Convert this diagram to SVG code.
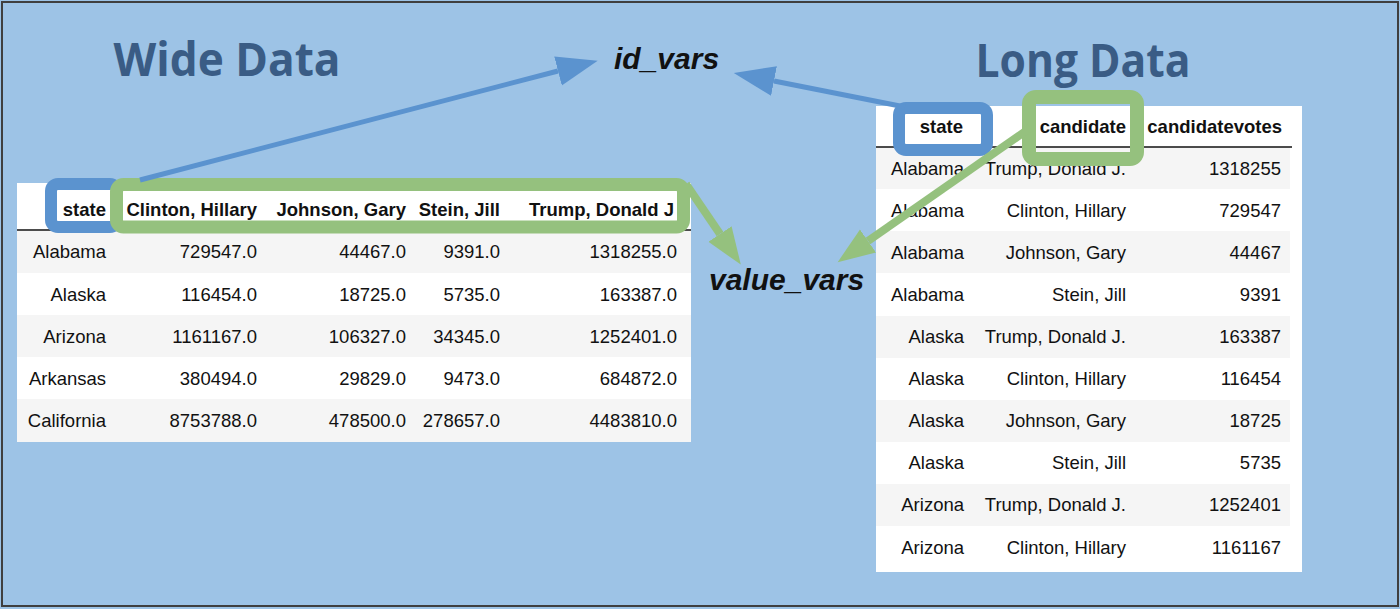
<svg xmlns="http://www.w3.org/2000/svg" width="1400" height="609" viewBox="0 0 1400 609">
<style>
.title{font-family:"Open Sans","Liberation Sans",sans-serif;font-weight:bold;font-size:46px;fill:#3A5C85;text-anchor:middle}
.lbl{font-family:"Liberation Sans",Arial,sans-serif;font-weight:bold;font-style:italic;font-size:30px;fill:#111}
.th{font-family:"Liberation Sans",Arial,sans-serif;font-weight:bold;font-size:18.5px;fill:#111;text-anchor:end}
.td{font-family:"Liberation Sans",Arial,sans-serif;font-size:18.5px;fill:#111;text-anchor:end}
.tbl{fill:#FFFFFF}
.stripe{fill:#F5F5F5}
.hline{stroke:#111;stroke-width:1.5}
.blueFrame{fill:none;stroke:#5B93CF;stroke-width:12}
.greenFrame{fill:none;stroke:#95C17E}
.blueArrow{stroke:#5B93CF;stroke-width:5;fill:none}
.greenArrow{stroke:#95C17E;stroke-width:8;fill:none}
</style>
<defs>
<marker id="headBlue" markerUnits="userSpaceOnUse" viewBox="0 -16 42 32" markerWidth="42" markerHeight="32" refX="0" refY="0" orient="auto">
<path d="M0,-15 L41,0 L0,15 z" fill="#5B93CF"/>
</marker>
<marker id="headGreen" markerUnits="userSpaceOnUse" viewBox="0 -16 40 32" markerWidth="40" markerHeight="32" refX="0" refY="0" orient="auto">
<path d="M0,-14 L37,0 L0,14 z" fill="#95C17E"/>
</marker>
</defs>
<rect x="0" y="0" width="1400" height="609" fill="#9DC3E6"/>
<rect x="2" y="2" width="1396" height="604" fill="none" stroke="#3F3F3F" stroke-width="2"/>

<g id="title-wide"><text class="title" x="227" y="76" textLength="227" lengthAdjust="spacingAndGlyphs">Wide Data</text></g>
<g id="title-long"><text class="title" x="1083" y="77" textLength="215" lengthAdjust="spacingAndGlyphs">Long Data</text></g>

<g id="wide-table">
<rect class="tbl" x="17" y="183" width="674" height="259"/>
<rect class="stripe" x="17" y="231" width="674" height="42"/>
<rect class="stripe" x="17" y="315" width="674" height="42"/>
<rect class="stripe" x="17" y="399" width="674" height="43"/>
<line class="hline" x1="17" y1="230" x2="691" y2="230"/>
<text class="th" x="106" y="215.5">state</text>
<text class="th" x="257" y="215.5">Clinton, Hillary</text>
<text class="th" x="406" y="215.5">Johnson, Gary</text>
<text class="th" x="500" y="215.5">Stein, Jill</text>
<text class="th" x="674" y="215.5">Trump, Donald J</text>
<g>
<text class="td" x="106" y="257.6">Alabama</text><text class="td" x="257" y="257.6">729547.0</text><text class="td" x="406" y="257.6">44467.0</text><text class="td" x="500" y="257.6">9391.0</text><text class="td" x="677" y="257.6">1318255.0</text>
<text class="td" x="106" y="300.6">Alaska</text><text class="td" x="257" y="300.6">116454.0</text><text class="td" x="406" y="300.6">18725.0</text><text class="td" x="500" y="300.6">5735.0</text><text class="td" x="677" y="300.6">163387.0</text>
<text class="td" x="106" y="342.6">Arizona</text><text class="td" x="257" y="342.6">1161167.0</text><text class="td" x="406" y="342.6">106327.0</text><text class="td" x="500" y="342.6">34345.0</text><text class="td" x="677" y="342.6">1252401.0</text>
<text class="td" x="106" y="384.6">Arkansas</text><text class="td" x="257" y="384.6">380494.0</text><text class="td" x="406" y="384.6">29829.0</text><text class="td" x="500" y="384.6">9473.0</text><text class="td" x="677" y="384.6">684872.0</text>
<text class="td" x="106" y="426.6">California</text><text class="td" x="257" y="426.6">8753788.0</text><text class="td" x="406" y="426.6">478500.0</text><text class="td" x="500" y="426.6">278657.0</text><text class="td" x="677" y="426.6">4483810.0</text>
</g>
</g>

<g id="long-table">
<rect class="tbl" x="876" y="106" width="426" height="466"/>
<rect class="stripe" x="876" y="147" width="414" height="42"/>
<rect class="stripe" x="876" y="231" width="414" height="42"/>
<rect class="stripe" x="876" y="316" width="414" height="42"/>
<rect class="stripe" x="876" y="400" width="414" height="42"/>
<rect class="stripe" x="876" y="484" width="414" height="42"/>
<line class="hline" x1="876" y1="147" x2="1292" y2="147"/>
<text class="th" x="963" y="132.5">state</text>
<text class="th" x="1126" y="132.5">candidate</text>
<text class="th" x="1282" y="132.5">candidatevotes</text>
<g>
<text class="td" x="964" y="174.6">Alabama</text><text class="td" x="1126" y="174.6">Trump, Donald J.</text><text class="td" x="1281" y="174.6">1318255</text>
<text class="td" x="964" y="216.7">Alabama</text><text class="td" x="1126" y="216.7">Clinton, Hillary</text><text class="td" x="1281" y="216.7">729547</text>
<text class="td" x="964" y="258.8">Alabama</text><text class="td" x="1126" y="258.8">Johnson, Gary</text><text class="td" x="1281" y="258.8">44467</text>
<text class="td" x="964" y="300.9">Alabama</text><text class="td" x="1126" y="300.9">Stein, Jill</text><text class="td" x="1281" y="300.9">9391</text>
<text class="td" x="964" y="343">Alaska</text><text class="td" x="1126" y="343">Trump, Donald J.</text><text class="td" x="1281" y="343">163387</text>
<text class="td" x="964" y="385.1">Alaska</text><text class="td" x="1126" y="385.1">Clinton, Hillary</text><text class="td" x="1281" y="385.1">116454</text>
<text class="td" x="964" y="427.2">Alaska</text><text class="td" x="1126" y="427.2">Johnson, Gary</text><text class="td" x="1281" y="427.2">18725</text>
<text class="td" x="964" y="469.3">Alaska</text><text class="td" x="1126" y="469.3">Stein, Jill</text><text class="td" x="1281" y="469.3">5735</text>
<text class="td" x="964" y="511.4">Arizona</text><text class="td" x="1126" y="511.4">Trump, Donald J.</text><text class="td" x="1281" y="511.4">1252401</text>
<text class="td" x="964" y="553.5">Arizona</text><text class="td" x="1126" y="553.5">Clinton, Hillary</text><text class="td" x="1281" y="553.5">1161167</text>
</g>
</g>

<g id="wide-state-highlight"><rect class="blueFrame" x="51" y="184" width="66" height="43" rx="7"/></g>
<g id="wide-values-highlight"><rect class="greenFrame" stroke-width="13" x="116.5" y="184.5" width="567" height="42.5" rx="7"/></g>
<g id="long-state-highlight"><rect class="blueFrame" x="899" y="108" width="88" height="42" rx="7"/></g>
<g id="long-candidate-highlight"><rect class="greenFrame" stroke-width="14" x="1029" y="97" width="108" height="62" rx="7"/></g>

<g id="label-id-vars"><text class="lbl" x="614" y="69">id_vars</text></g>
<g id="label-value-vars"><text class="lbl" x="709" y="290">value_vars</text></g>

<g id="connectors">
<line class="blueArrow" x1="140" y1="180" x2="558" y2="71" marker-end="url(#headBlue)"/>
<line class="blueArrow" x1="905" y1="107" x2="774" y2="81" marker-end="url(#headBlue)"/>
<line class="greenArrow" x1="686" y1="184" x2="720" y2="234" marker-end="url(#headGreen)"/>
<line class="greenArrow" x1="1030" y1="128" x2="868" y2="241" marker-end="url(#headGreen)"/>
</g>
</svg>
